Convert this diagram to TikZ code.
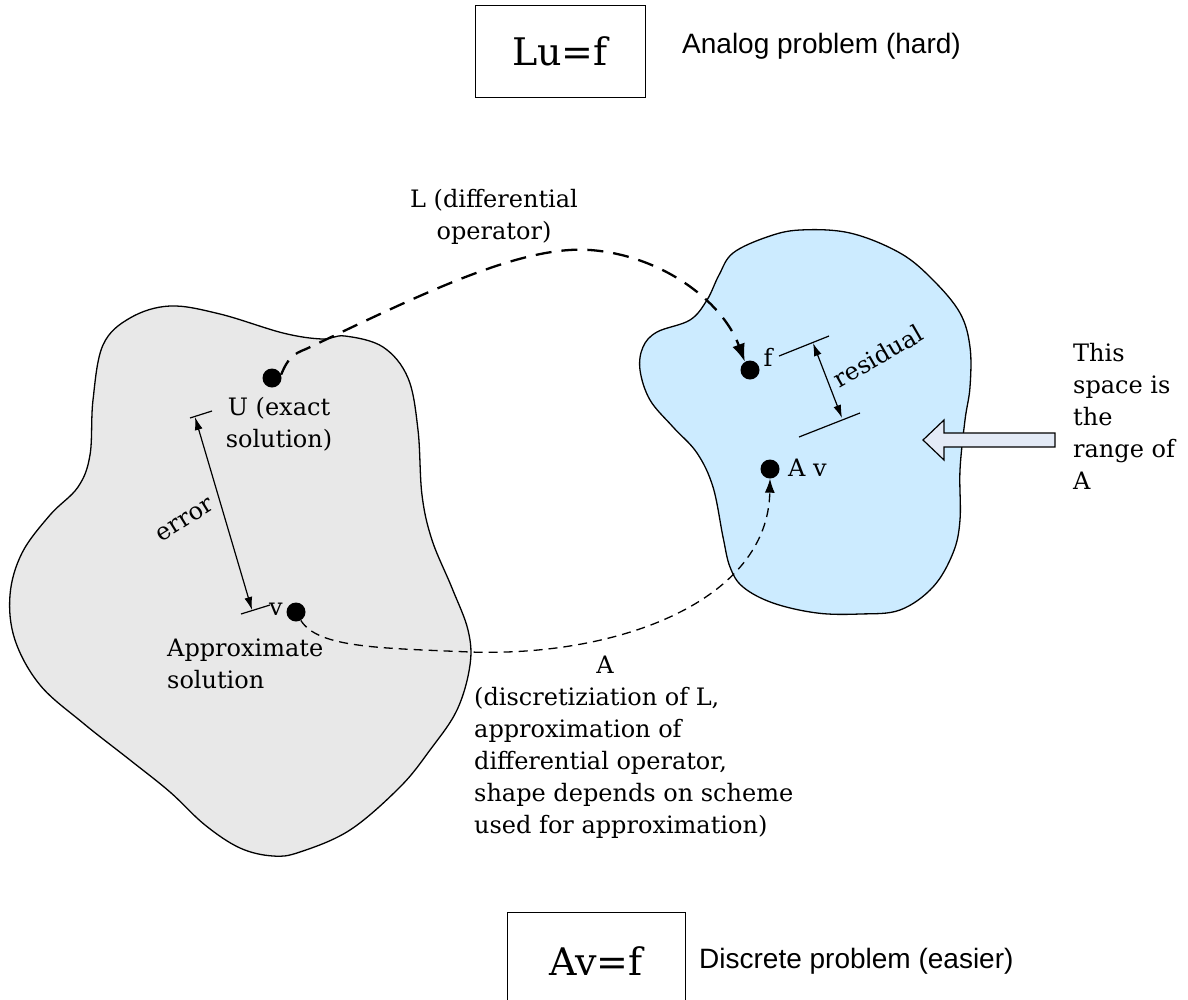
\documentclass[tikz,border=0pt]{standalone}
\usepackage{fontspec}
\setmainfont{DejaVu Serif}
\newfontfamily\sansf{Liberation Sans}
\usetikzlibrary{arrows.meta}
\definecolor{leftfill}{HTML}{E8E8E8}
\definecolor{rightfill}{HTML}{CCEBFF}
\definecolor{hollowfill}{HTML}{E3EAF6}
\tikzset{
  lbl/.style={inner sep=0pt, font=\fontsize{24}{32}\selectfont},
  sanslbl/.style={inner sep=0pt, font=\sansf\fontsize{28}{32}\selectfont, anchor=west},
  eqbox/.style={draw, line width=1pt, inner sep=0pt, font=\fontsize{38}{44}\selectfont},
  dot/.style={circle, fill=black, inner sep=0pt, minimum size=19pt},
  region/.style={draw=black, line width=1.3pt},
  opdash/.style={line width=2.3pt, dash pattern=on 16pt off 10pt, -{Latex[length=18pt,width=13pt]}},
  apdash/.style={line width=1.3pt, dash pattern=on 9pt off 6pt, -{Latex[length=14pt,width=10pt]}},
  measure/.style={line width=1.2pt, {Latex[length=13pt,width=8pt]}-{Latex[length=13pt,width=8pt]}},
  bar/.style={line width=1.2pt}
}
\begin{document}
\begin{tikzpicture}[x=1pt,y=-1pt]
\useasboundingbox (0,0) rectangle (1188,999);

% left region (domain)
\filldraw[region, fill=leftfill] plot[smooth cycle, tension=0.6] coordinates {
 (93,400) (103,345) (130,318) (170,306) (220,314) (283,333) (322,339)
 (345,336) (383,347) (408,378) (418,430) (422,495) (432,540) (452,588)
 (468,630) (470,665) (457,710) (430,750) (400,787) (350,830) (300,852)
 (273,856) (240,848) (205,825) (170,792) (130,760) (83,723) (40,685)
 (15,640) (10,595) (22,553) (50,515) (78,487) (90,455)};

% right region (range of A)
\filldraw[region, fill=rightfill] plot[smooth cycle, tension=0.6] coordinates {
 (733,253) (767,237) (800,230) (850,233) (900,253) (933,280) (960,313)
 (970,347) (970,387) (965,420) (960,470) (960,520) (953,553) (933,587)
 (900,610) (860,614) (817,613) (773,603) (743,587) (730,567) (723,537)
 (713,487) (697,453) (673,427) (650,400) (640,370) (643,347) (657,332)
 (690,320) (707,300) (719,275)};

% boxes and side texts
\node[eqbox, minimum width=170pt, minimum height=92pt] (lu) at (560,51) {Lu=f};
\node[sanslbl] (analog) at (682,46) {Analog problem (hard)};
\node[eqbox, minimum width=178pt, minimum height=98pt] (av) at (596,961) {Av=f};
\node[sanslbl] (discrete) at (699,961) {Discrete problem (easier)};

% points
\node[dot] (U) at (272,378) {};
\node[dot] (v) at (296,612) {};
\node[dot] (f) at (750,370) {};
\node[dot] (Av) at (770,469) {};

% labels
\node[lbl, align=center, anchor=north] (Ulbl) at (279,397) {U (exact\\solution)};
\node[lbl, anchor=base] (vlbl) at (276,615) {v};
\node[lbl, align=left, anchor=north west] (approx) at (167,639) {Approximate\\solution};
\node[lbl, anchor=base] (flbl) at (768,366) {f};
\node[lbl, anchor=base west] (Avlbl) at (788,476) {A v};
\node[lbl, align=center, anchor=north] (Llbl) at (494,189) {L (differential\\operator)};
\node[lbl, anchor=base] (Albl) at (605,673) {A};
\node[lbl, align=left, anchor=north west] (disc) at (474,687)
 {(discretiziation of L,\\approximation of\\differential operator,\\shape depends on scheme\\used for approximation)};
\node[lbl, align=left, anchor=north west] (range) at (1073,343) {This\\space is\\the\\range of\\A};

% operator L (dashed, thick)
\draw[opdash] (U.20) .. controls (288,358) and (293,354) .. (306,349)
  .. controls (420,295) and (520,245) .. (590,250)
  .. controls (660,255) and (722,300) .. (f.122);

% operator A (dashed, thin)
\draw[apdash] (v.-60) .. controls (318,648) and (380,648) .. (470,652)
  .. controls (620,657) and (768,600) .. (Av.south);

% error measure
\coordinate (eb1a) at (190,418); \coordinate (eb1b) at (212,411);
\coordinate (eb2a) at (241,614); \coordinate (eb2b) at (270,605);
\coordinate (e1) at (195,417); \coordinate (e2) at (252,610);
\draw[bar] (eb1a) -- (eb1b);
\draw[bar] (eb2a) -- (eb2b);
\draw[measure] (e1) -- (e2);
\node[lbl, rotate=32] (errlbl) at (185,520) {error};

% residual measure
\coordinate (rb1a) at (779,356); \coordinate (rb1b) at (829,336);
\coordinate (rb2a) at (799,437); \coordinate (rb2b) at (860,413);
\coordinate (r1) at (813,343); \coordinate (r2) at (842,418);
\draw[bar] (rb1a) -- (rb1b);
\draw[bar] (rb2a) -- (rb2b);
\draw[measure] (r1) -- (r2);
\node[lbl, rotate=30] (reslbl) at (878,356) {residual};

% hollow arrow pointing at the range
\filldraw[line width=1.2pt, fill=hollowfill] (923,440) -- (944,420) -- (944,433) -- (1055,433)
  -- (1055,447) -- (944,447) -- (944,460) -- cycle;
\end{tikzpicture}
\end{document}
